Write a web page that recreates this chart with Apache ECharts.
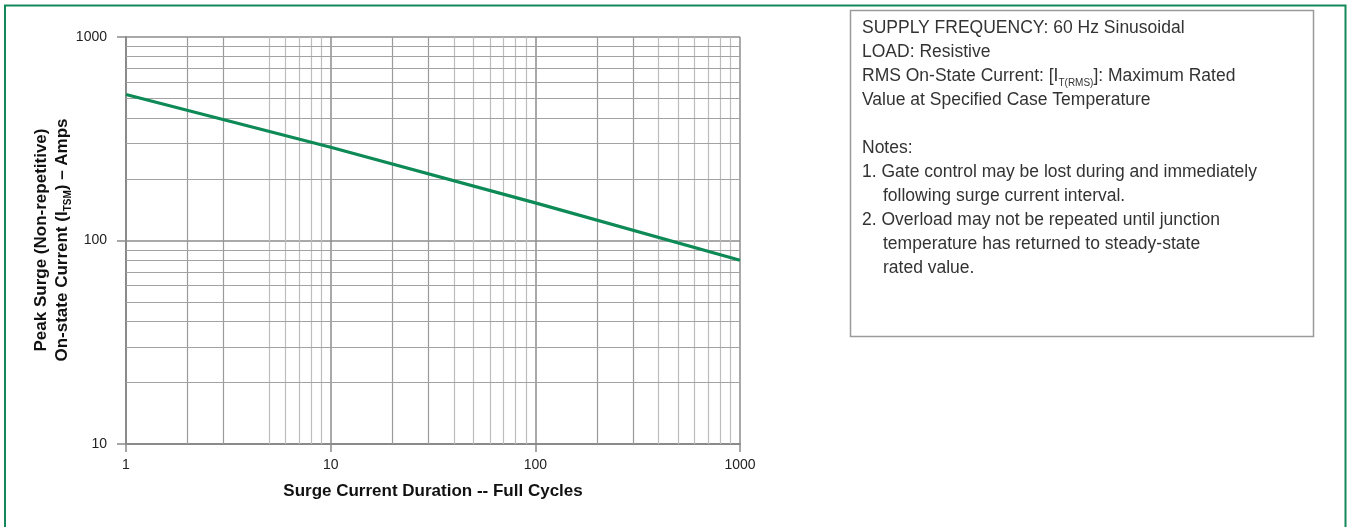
<!DOCTYPE html>
<html>
<head>
<meta charset="utf-8">
<script src="https://cdn.jsdelivr.net/npm/echarts@6/dist/echarts.min.js"></script>
<style>
html,body{margin:0;padding:0;background:#fff;}
#chart{width:1349px;height:527px;}
</style>
</head>
<body>
<div id="chart"></div>
<script>
// ---- data ----
const cycles = [1, 10, 100, 1000];
const peakSurge = [522, 287, 153, 80];
const xMinorGrid = [2, 3, 5, 6, 7, 8, 9, 20, 30, 40, 50, 60, 70, 80, 90, 200, 300, 400, 500, 600, 700, 800, 900];
const yMinorGrid = [20, 30, 40, 50, 60, 70, 80, 90, 200, 300, 400, 500, 600, 700, 800, 900];
const xAxisTitle = 'Surge Current Duration -- Full Cycles';
const yTitle1 = 'Peak Surge (Non-repetitive)';
const yTitle2a = 'On-state Current (I';
const yTitle2sub = 'TSM';
const yTitle2b = ') – Amps';
const noteLines = [
  ['', 'SUPPLY FREQUENCY: 60 Hz Sinusoidal'],
  ['', 'LOAD: Resistive'],
  ['', '{t|RMS On-State Current: [I}{s|T(RMS)}{t|]: Maximum Rated}'],
  ['', 'Value at Specified Case Temperature'],
  ['', ''],
  ['', 'Notes:'],
  ['', '1. Gate control may be lost during and immediately'],
  ['i', 'following surge current interval.'],
  ['', '2. Overload may not be repeated until junction'],
  ['i', 'temperature has returned to steady-state'],
  ['i', 'rated value.']
];

const FONT = '"Liberation Sans", Arial, Helvetica, sans-serif';
const chart = echarts.init(document.getElementById('chart'), null, {renderer: 'canvas'});

const lineData = cycles.map((c, i) => [c, peakSurge[i]]);
const gridMarks = [];
xMinorGrid.forEach(v => {
  const m = v / Math.pow(10, Math.floor(Math.log10(v) + 1e-9));
  gridMarks.push({xAxis: v, lineStyle: {color: m < 4 ? '#9a9a9a' : '#bdbdbd', width: 1.2, type: 'solid'}});
});
yMinorGrid.forEach(v => {
  gridMarks.push({yAxis: v, lineStyle: {color: '#a2a2a2', width: 1.2, type: 'solid'}});
});

const graphics = [
  {type: 'rect', shape: {x: 5, y: 5.5, width: 1340.5, height: 540},
   style: {fill: null, stroke: '#13895b', lineWidth: 2}, silent: true, z: 0},
  {type: 'rect', shape: {x: 850.5, y: 10.5, width: 463, height: 326},
   style: {fill: null, stroke: '#9a9a9a', lineWidth: 1.5}, silent: true},
  {type: 'text', x: 41, y: 240, rotation: Math.PI / 2,
   style: {text: yTitle1, font: 'bold 17px ' + FONT, fill: '#111', align: 'center', verticalAlign: 'middle'}},
  {type: 'text', x: 62, y: 240, rotation: Math.PI / 2,
   style: {text: '{b|' + yTitle2a + '}{s|' + yTitle2sub + '}{b|' + yTitle2b + '}',
     align: 'center', verticalAlign: 'middle',
     rich: {
       b: {fontFamily: FONT, fontWeight: 'bold', fontSize: 17, fill: '#111', lineHeight: 22},
       s: {fontFamily: FONT, fontWeight: 'bold', fontSize: 10, fill: '#111', lineHeight: 12, verticalAlign: 'bottom'}
     }}}
];
noteLines.forEach((ln, i) => {
  if (!ln[1]) return;
  const txt = ln[1].indexOf('{') === 0 ? ln[1] : '{t|' + ln[1] + '}';
  graphics.push({type: 'text', x: ln[0] === 'i' ? 883 : 862, y: 28.5 + i * 24,
    style: {text: txt, verticalAlign: 'middle', align: 'left',
      rich: {
        t: {fontFamily: FONT, fontSize: 17.5, fill: '#333', lineHeight: 24},
        s: {fontFamily: FONT, fontSize: 10, fill: '#333', lineHeight: 13, verticalAlign: 'bottom'}
      }}});
});

const option = {
  animation: false,
  backgroundColor: '#fff',
  grid: {left: 126, right: 609, top: 37, bottom: 83, containLabel: false},
  xAxis: {
    type: 'log', logBase: 10, min: 1, max: 1000,
    axisLine: {show: true, onZero: false, lineStyle: {color: '#8a8a8a', width: 2}},
    axisTick: {show: true, length: 8, lineStyle: {color: '#8a8a8a', width: 1.5}},
    axisLabel: {color: '#222', fontFamily: FONT, fontSize: 14, margin: 14,
      formatter: v => String(Math.round(v))},
    splitLine: {show: true, lineStyle: {color: '#8c8c8c', width: 1.5}},
    name: xAxisTitle, nameLocation: 'middle', nameGap: 39,
    nameTextStyle: {color: '#111', fontFamily: FONT, fontWeight: 'bold', fontSize: 17}
  },
  yAxis: {
    type: 'log', logBase: 10, min: 10, max: 1000,
    axisLine: {show: true, onZero: false, lineStyle: {color: '#8a8a8a', width: 2}},
    axisTick: {show: true, length: 9, lineStyle: {color: '#8a8a8a', width: 1.5}},
    axisLabel: {color: '#222', fontFamily: FONT, fontSize: 14, margin: 19,
      formatter: v => String(Math.round(v))},
    splitLine: {show: true, lineStyle: {color: '#8c8c8c', width: 1.5}}
  },
  series: [{
    type: 'line', data: lineData, symbol: 'none', z: 5,
    lineStyle: {color: '#0d8a56', width: 3.2},
    markLine: {silent: true, symbol: ['none', 'none'], label: {show: false},
      animation: false, z: 1, emphasis: {disabled: true}, data: gridMarks}
  }],
  graphic: graphics
};
chart.setOption(option);
</script>
</body>
</html>
